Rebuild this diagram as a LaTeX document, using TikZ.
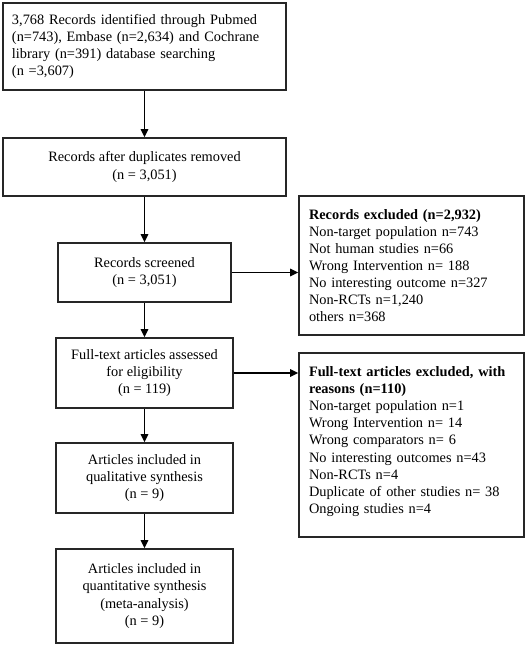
\documentclass[tikz,border=0pt]{standalone}
\usepackage{fontspec}
\setmainfont{Liberation Serif}
\usetikzlibrary{arrows.meta}
\begin{document}
\begin{tikzpicture}[x=1bp,y=-1bp,
  box/.style={draw=black!85, line width=1.6bp, rectangle, inner sep=0bp,
    font=\fontsize{14.4}{17.2}\selectfont, align=center},
  lbox/.style={box, align=left, inner xsep=10bp, text width=205bp},
  arr/.style={draw=black, line width=1.5bp, -{Triangle[length=8bp,width=7.5bp]}}]
\useasboundingbox (0,0) rectangle (526,645);
\node[box, align=left, inner xsep=9bp, text width=265bp, minimum width=283bp, minimum height=87bp] (b1) at (144.5,46.5)
  {3,768 Records identified through Pubmed\\(n=743), Embase (n=2,634) and Cochrane\\library (n=391) database searching\\(n =3,607)};
\node[box, minimum width=283bp, minimum height=58bp] (b2) at (144.5,167)
  {Records after duplicates removed\\(n = 3,051)};
\node[box, minimum width=173bp, minimum height=59bp] (b3) at (144.5,272.5)
  {Records screened\\(n = 3,051)};
\node[box, minimum width=177bp, minimum height=70bp] (b4) at (144.5,373)
  {Full-text articles assessed\\for eligibility\\(n = 119)};
\node[box, minimum width=177bp, minimum height=70bp] (b5) at (144.5,478)
  {Articles included in\\qualitative synthesis\\(n = 9)};
\node[box, minimum width=177bp, minimum height=94bp] (b6) at (144.5,596)
  {Articles included in\\quantitative synthesis\\(meta-analysis)\\(n = 9)};
\node[lbox, minimum width=225bp, minimum height=139bp] (r1) at (411.5,265.5)
  {\textbf{Records excluded (n=2,932)}\\Non-target population n=743\\Not human studies n=66\\Wrong Intervention n= 188\\No interesting outcome n=327\\Non-RCTs n=1,240\\others n=368};
\node[lbox, minimum width=225bp, minimum height=184bp] (r2) at (411.5,445)
  {\textbf{Full-text articles excluded, with}\\\textbf{reasons (n=110)}\\Non-target population n=1\\Wrong Intervention n= 14\\Wrong comparators n= 6\\No interesting outcomes n=43\\Non-RCTs n=4\\Duplicate of other studies n= 38\\Ongoing studies n=4\\[-7bp]\mbox{}};
\draw[arr] (b1) -- (b2);
\draw[arr] (b2) -- (b3);
\draw[arr] (b3) -- (b4);
\draw[arr] (b4) -- (b5);
\draw[arr] (b5) -- (b6);
\draw[arr] (b3.east) -- (b3.east -| r1.west);
\draw[arr] (b4.east) -- (b4.east -| r2.west);
\end{tikzpicture}
\end{document}
